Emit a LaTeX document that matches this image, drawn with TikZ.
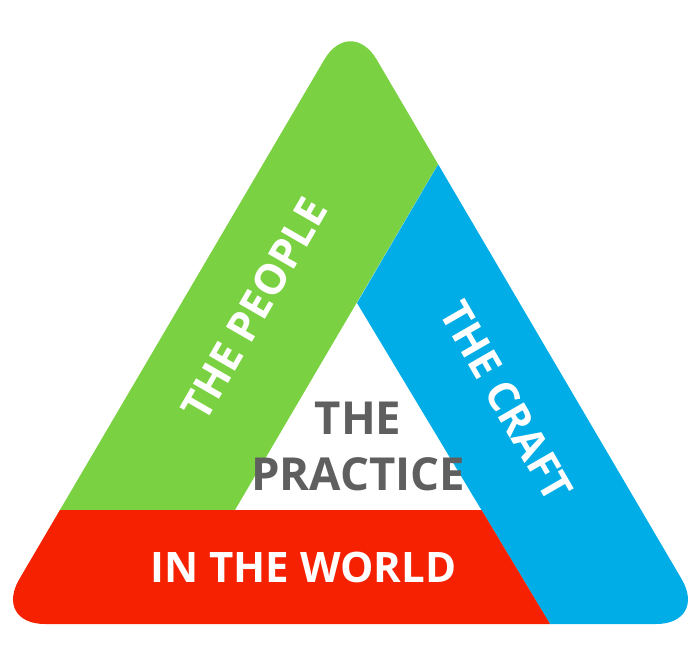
\documentclass[tikz,border=0pt]{standalone}
\usepackage{fontspec}
\setmainfont{Open Sans}
\definecolor{pgreen}{RGB}{122,209,65}
\definecolor{pblue}{RGB}{0,173,230}
\definecolor{pred}{RGB}{245,33,0}
\definecolor{pgray}{RGB}{95,95,95}
\begin{document}
\begin{tikzpicture}[x=1pt,y=-1pt,
  bandlabel/.style={text=white,font=\bfseries\fontsize{42}{48}\selectfont,inner sep=0pt},
  centerlabel/.style={text=pgray,font=\bfseries\fontsize{45.5}{56}\selectfont,align=center,inner sep=0pt}]
\useasboundingbox (0,0) rectangle (697,672);
% key points
\coordinate (A) at (350.5,15);
\coordinate (BR) at (708,624);
\coordinate (BL) at (-7,624);
\coordinate (I) at (357,303);
\coordinate (IL) at (235,510);
\coordinate (IR) at (481.5,510);
\coordinate (GT) at (534.4,0);
\coordinate (BB) at (595.7,700);
\begin{scope}
\clip[rounded corners=52pt] (171.75,319.5) -- (A) -- (BR) -- (BL) -- cycle;
\fill[pgreen] (IL) -- (GT) -- (-50,0) -- (-50,510) -- cycle;
\fill[pblue] (GT) -- (800,0) -- (800,700) -- (BB) -- (I) -- cycle;
\fill[pred] (-50,510) -- (IR) -- (BB) -- (-50,700) -- cycle;
\end{scope}
\node[bandlabel,rotate=60] (ppl) at (254,309) {THE PEOPLE};
\node[bandlabel,rotate=-60] (craft) at (506.5,401) {THE CRAFT};
\node[bandlabel] (world) at (303.4,567.5) {IN THE WORLD};
\node[centerlabel] (practice) at (358,446) {THE\\PRACTICE};
\end{tikzpicture}
\end{document}
